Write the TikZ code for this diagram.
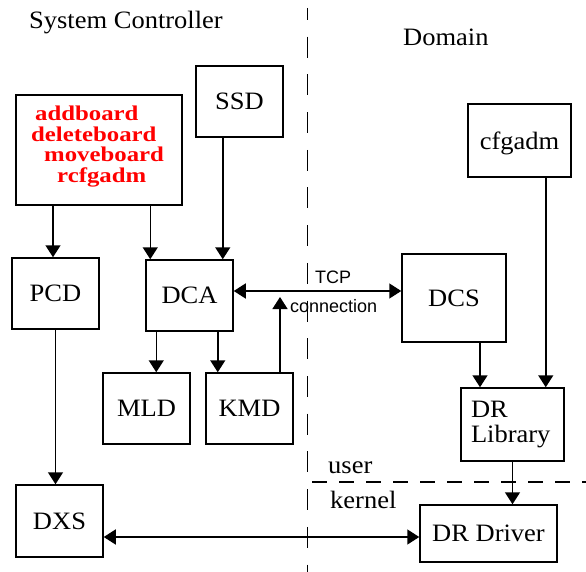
\documentclass[tikz,border=0pt]{standalone}
\usepackage{fontspec}
\setmainfont[FakeStretch=1.06]{Liberation Serif}
\newfontfamily\tcpfont{Liberation Sans}
\newfontfamily\redfont[FakeStretch=1.18]{Liberation Serif}
\usetikzlibrary{arrows.meta}

\begin{document}
\begin{tikzpicture}[
  x=1pt, y=-1pt,
  mybox/.style={
    draw,
    line width=1.5pt,
    inner sep=0pt,
    minimum width=87pt,
    minimum height=71pt,
    font=\fontsize{25}{25}\selectfont
  },
  mytext/.style={
    inner sep=0pt,
    anchor=base west,
    font=\fontsize{25}{25}\selectfont
  },
  redcmd/.style={
    inner sep=0pt,
    anchor=base west,
    text=red,
    font=\redfont\fontsize{21}{21}\selectfont\bfseries
  },
  tcplabel/.style={
    inner sep=0pt,
    anchor=base west,
    font=\tcpfont\fontsize{18}{18}\selectfont
  },
  myarrow/.style={
    line width=1.5pt,
    -{Triangle[length=12pt,width=15pt]}
  },
  bothways/.style={
    line width=1.5pt,
    {Triangle[length=12pt,width=15pt]}-{Triangle[length=12pt,width=15pt]}
  },
  divider/.style={line width=1.5pt}
]
\useasboundingbox (0,0) rectangle (586,572);
\draw[divider, dash pattern=on 21pt off 16.7pt, dash phase=9pt] (307.7,8) -- (307.7,572);
\draw[divider, dash pattern=on 15pt off 12pt] (312,482) -- (586,482);
\node[mytext] (sc) at (29,29) {System Controller};
\node[mytext] (dom) at (403,46) {Domain};
\node[mytext] (usr) at (328,473) {user};
\node[mytext] (krn) at (330,508) {kernel};
\node[mybox, minimum width=166pt, minimum height=110pt] (cmds) at (99,150) {};
\node[redcmd] (cmdadd) at (35,121) {addboard};
\node[redcmd] (cmddel) at (31,142) {deleteboard};
\node[redcmd] (cmdmove) at (44,162) {moveboard};
\node[redcmd] (cmdrcfg) at (57,183) {rcfgadm};
\node[mybox] (ssd) at (239.5,101.5) {SSD};
\node[mybox, minimum width=103pt, minimum height=73pt, text depth=0pt] (cfg) at (519.5,140.5) {cfgadm};
\node[mybox] (pcd) at (55.5,293.5) {PCD};
\node[mybox] (dca) at (189.5,295.5) {DCA};
\node[mybox, minimum width=104pt, minimum height=88pt] (dcs) at (454,298) {DCS};
\node[mybox] (mld) at (146.5,408.5) {MLD};
\node[mybox] (kmd) at (249.5,408.5) {KMD};
\node[mybox, minimum width=103pt, minimum height=73pt, align=left, text width=83pt] (drlib) at (512.5,424.5) {DR\\Library};
\node[mybox, minimum height=72pt] (dxs) at (59.5,521) {DXS};
\node[mybox, minimum width=137pt, minimum height=57pt] (drdrv) at (488.5,533.5) {DR Driver};
\node[tcplabel] (tcp) at (315,283) {TCP};
\node[tcplabel] (conn) at (290,312) {connection};
\coordinate (kmdup) at (280,297);
\draw[myarrow] ([xshift=-2.5pt]pcd.north |- cmds.south) -- ([xshift=-2.5pt]pcd.north);
\draw[myarrow] ([xshift=5pt]dca.north west |- cmds.south) -- ([xshift=5pt]dca.north west);
\draw[myarrow] ([xshift=-11pt]dca.north east |- ssd.south) -- ([xshift=-11pt]dca.north east);
\draw[myarrow] ([xshift=11pt]dca.south west) -- ([xshift=11pt]dca.south west |- mld.north);
\draw[myarrow] ([xshift=-16pt]dca.south east) -- ([xshift=-16pt]dca.south east |- kmd.north);
\draw[myarrow] (kmdup |- kmd.north) -- (kmdup);
\draw[bothways] ([yshift=4.5pt]dca.east) -- ([yshift=4.5pt]dca.east -| dcs.west);
\draw[myarrow] (pcd.south) -- (pcd.south |- dxs.north);
\draw[myarrow] ([xshift=26pt]dcs.south) -- ([xshift=26pt]dcs.south |- drlib.north);
\draw[myarrow] ([xshift=-26pt]cfg.south east) -- ([xshift=-26pt]cfg.south east |- drlib.north);
\draw[myarrow] (drlib.south) -- (drlib.south |- drdrv.north);
\draw[bothways] ([yshift=-16pt]dxs.east) -- ([yshift=-16pt]dxs.east -| drdrv.west);
\end{tikzpicture}
\end{document}
